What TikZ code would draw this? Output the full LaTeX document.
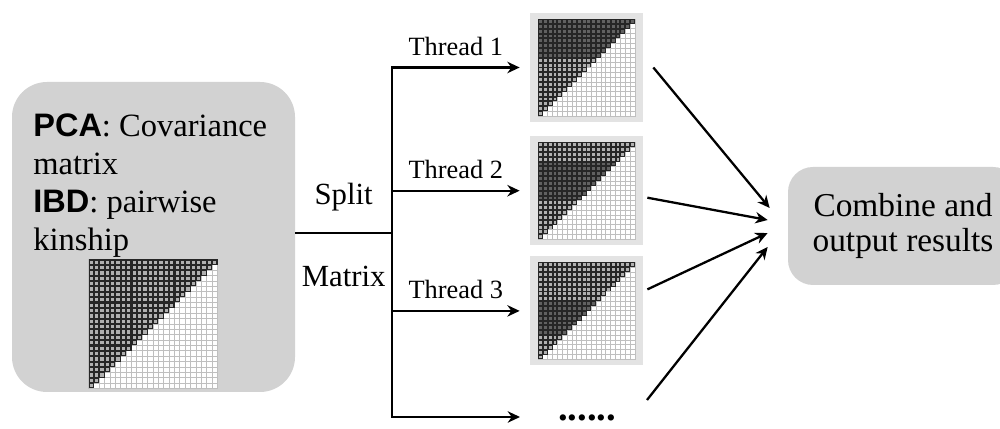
\documentclass[tikz,border=0pt]{standalone}
\usepackage{fontspec}
\setmainfont{Liberation Serif}
\setsansfont{Liberation Sans}
\newfontfamily\kwfont{Liberation Sans}
\newfontfamily\txtfont{Liberation Serif}
\usetikzlibrary{arrows.meta,positioning,calc}
\tikzset{
  >={Stealth[length=7pt,width=6.5pt]},
  line/.style      = {->, line width=1.3pt},
  wire/.style      = {line width=1.3pt},
  panel/.style     = {rectangle, rounded corners=0.7cm, fill=gray!35, inner sep=0pt},
  matbox/.style    = {rectangle, fill=gray!22, minimum width=2.26cm, minimum height=2.18cm, inner sep=0pt},
  thread/.style    = {pos=0.75, anchor=base, yshift=7pt, inner sep=0pt, font=\fontsize{15}{15}\selectfont},
  bigtext/.style   = {inner sep=0pt, font=\fontsize{17.5}{18}\selectfont}
}

% bold sans keyword in the input block
\newcommand{\kw}[1]{{\kwfont\bfseries #1}}

% triangular matrix drawn over a node: node, cells per side, side (cm), first/last darker row
\newcommand{\trimat}[5]{%
  \pgfmathsetmacro{\cs}{#3/#2}
  \pgfmathtruncatemacro{\nl}{#2-1}
  \begin{scope}[shift={($(#1)+(-#3/2,-#3/2)$)}]
    \fill[white] (0,0) rectangle (#3,#3);
    \draw[gray!50, line width=0.5pt, step=\cs cm] (0,0) grid (#3,#3);
    \draw[gray!50, line width=0.5pt] (0,0) rectangle (#3,#3);
    \foreach \row in {0,...,\nl}{
      \pgfmathtruncatemacro{\last}{\nl-\row}
      \foreach \col in {0,...,\last}{
        \pgfmathtruncatemacro{\inb}{(\row>=#4)&&(\row<=#5) ? 1 : 0}
        \ifnum\inb=1 \def\cellc{black!62}\else\def\cellc{gray!62}\fi
        \fill[black!85] ({\col*\cs},{(\nl-\row)*\cs}) rectangle ++(\cs,\cs);
        \fill[\cellc] ({(\col+0.2)*\cs},{(\nl-\row+0.2)*\cs}) rectangle ++({0.6*\cs},{0.6*\cs});
      }
    }
  \end{scope}}

\begin{document}
\begin{tikzpicture}
\useasboundingbox (0,0) rectangle (20,8.58);


% Input block
\node (src) [panel, minimum width=5.66cm, minimum height=6.2cm] at (3.07,3.84) {};
\node (srctxt) [anchor=north west, align=left, inner sep=0pt, font=\txtfont\fontsize{18.5}{21.8}\selectfont] at (0.66,6.32) {\kw{PCA}: Covariance\\matrix\\\kw{IBD}: pairwise\\kinship};
\node (bigmat) [minimum size=2.58cm, inner sep=0pt] at (3.06,2.1) {};
\trimat{bigmat}{24}{2.58}{99}{99}


% Split point
\coordinate (fork) at (7.84,3.92);


% Thread blocks
\node (m1) [matbox] at (11.73,7.23) {};
\node (m2) [matbox, below=0.27cm of m1] {};
\node (m3) [matbox, below=0.21cm of m2] {};
\trimat{m1}{20}{1.94}{0}{7}
\trimat{m2}{20}{1.94}{4}{11}
\trimat{m3}{20}{1.94}{8}{14}

\coordinate (more) at (10.4,0.24);
\coordinate (rest) at (12.94,0.58);
\node (dots) [anchor=base, inner sep=0pt, font=\fontsize{22}{22}\selectfont\bfseries] at (11.74,0.16) {......};


% Output block
\node (comb) [panel, rounded corners=0.5cm, minimum width=4.6cm, minimum height=2.36cm, align=center, font=\fontsize{19}{19.8}\selectfont] at (18.06,4.06) {Combine and\\output results};


% Connections
\draw[wire] (src.east |- fork) -- node[bigtext, anchor=base, yshift=16pt] {Split} node[bigtext, anchor=north, yshift=-18pt] {Matrix} (fork);
\draw[line] (fork) |- node[thread] {Thread 1} ([xshift=-0.2cm]m1.west);
\draw[line] (fork) |- node[thread] {Thread 2} ([xshift=-0.2cm]m2.west);
\draw[line] (fork) |- node[thread] {Thread 3} ([xshift=-0.2cm]m3.west);
\draw[line] (fork) |- (more);

\draw[line] ([xshift=0.2cm]m1.east) -- ($(comb.west)+(-0.36,0.36)$);
\draw[line] ($(m2.east)+(0.08,-0.14)$) -- ($(comb.west)+(-0.4,0.12)$);
\draw[line] ($(m3.east)+(0.08,0.43)$) -- ($(comb.west)+(-0.4,-0.14)$);
\draw[line] (rest) -- ($(comb.west)+(-0.4,-0.42)$);


\end{tikzpicture}
\end{document}
